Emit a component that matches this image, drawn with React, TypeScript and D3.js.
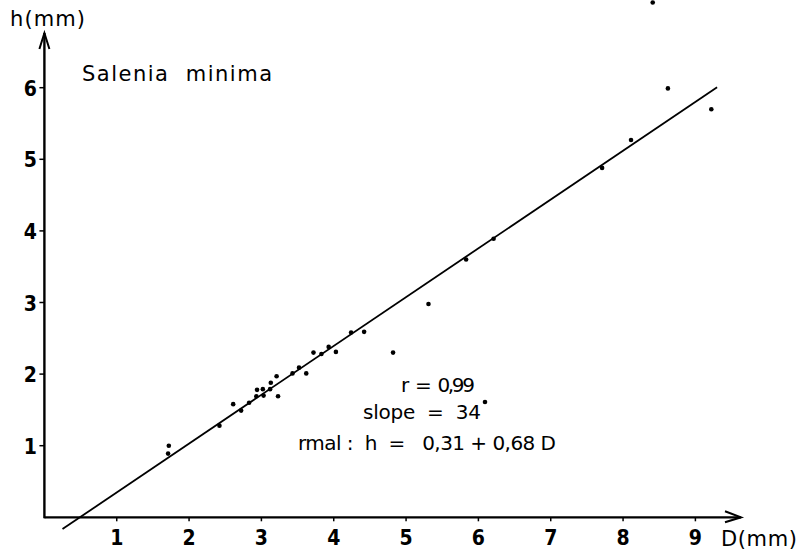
import React from "react";
import * as d3 from "d3";

const diameters = [1.72, 1.71, 2.42, 2.61, 2.72, 2.83, 2.93, 2.94, 3.02, 3.03, 3.12, 3.13, 3.21, 3.23, 3.43, 3.52, 3.62, 3.72, 3.83, 3.93, 4.03, 4.24, 4.42, 4.82, 5.31, 5.83, 6.21, 7.71, 8.11, 8.62, 9.22, 8.41];
const heights = [1.0, 0.89, 1.28, 1.58, 1.49, 1.6, 1.69, 1.78, 1.79, 1.7, 1.79, 1.88, 1.97, 1.69, 2.01, 2.09, 2.01, 2.3, 2.28, 2.38, 2.31, 2.58, 2.59, 2.3, 2.98, 3.6, 3.89, 4.88, 5.27, 5.99, 5.7, 7.19];
const xTicks = [1, 2, 3, 4, 5, 6, 7, 8, 9];
const yTicks = [1, 2, 3, 4, 5, 6];
const lineIntercept = -0.335;
const lineSlope = 0.682;
const lineRange = [0.25, 9.3];

const W = 800;
const H = 552;
const FONT = "'DejaVu Sans', sans-serif";
const NUMFONT = "'DejaVu Sans Condensed', 'DejaVu Sans', sans-serif";

export default function App() {
  const x = d3.scaleLinear().domain([0, 9]).range([44.4, 695.4]);
  const y = d3.scaleLinear().domain([0, 6]).range([517.3, 87.7]);
  const x0 = x(0);
  const y0 = y(0);
  const axisRight = 741;
  const axisTop = 33;
  const linePts: [number, number][] = lineRange.map((d) => [x(d), y(lineIntercept + lineSlope * d)]);
  const lineGen = d3.line<[number, number]>();
  const pre = { whiteSpace: "pre" as const };

  return (
    <svg width={W} height={H} style={{ position: "absolute", left: 0, top: 0, background: "#fff" }} fontFamily={FONT}>
      <rect width={W} height={H} fill="#fff" />
      {/* axes */}
      <line x1={x0} y1={y0} x2={axisRight} y2={y0} stroke="#000" strokeWidth={2.2} />
      <line x1={x0} y1={y0 + 1} x2={x0} y2={axisTop} stroke="#000" strokeWidth={2.4} />
      {/* arrow heads */}
      <path d={`M${axisRight - 16},${y0 - 6} L${axisRight},${y0} L${axisRight - 16},${y0 + 5}`} fill="none" stroke="#000" strokeWidth={2} />
      <path d={`M${x0 - 5},${axisTop + 16} L${x0},${axisTop} L${x0 + 5},${axisTop + 16}`} fill="none" stroke="#000" strokeWidth={2} />
      {/* x ticks */}
      {xTicks.map((t) => (
        <g key={"x" + t}>
          <line x1={x(t)} x2={x(t)} y1={y0} y2={y0 + 4} stroke="#000" strokeWidth={1.5} />
          <text x={x(t)} y={545} textAnchor="middle" fontSize={21} fontWeight="bold" fontFamily={NUMFONT}>{t}</text>
        </g>
      ))}
      {/* y ticks */}
      {yTicks.map((t) => (
        <g key={"y" + t}>
          <line x1={x0 - 5} x2={x0} y1={y(t)} y2={y(t)} stroke="#000" strokeWidth={1.5} />
          <text x={37} y={y(t) + 8} textAnchor="end" fontSize={21} fontWeight="bold" fontFamily={NUMFONT}>{t}</text>
        </g>
      ))}
      {/* axis labels */}
      <text x={10} y={26} fontSize={21} textLength={75} lengthAdjust="spacing">h(mm)</text>
      <text x={721} y={546} fontSize={21} textLength={76} lengthAdjust="spacing">D(mm)</text>
      <text x={82} y={81} fontSize={21} textLength={190} lengthAdjust="spacing" style={pre}>Salenia  minima</text>
      {/* regression line */}
      <path d={lineGen(linePts) || ""} fill="none" stroke="#000" strokeWidth={1.8} />
      {/* points */}
      {diameters.map((d, i) => (
        <circle key={i} cx={x(d)} cy={y(heights[i])} r={2.3} fill="#000" />
      ))}
      {/* annotation */}
      <text x={401} y={392} fontSize={20} textLength={74} lengthAdjust="spacing" style={pre}>r  =  0,99</text>
      <text x={363} y={419} fontSize={20} textLength={118} lengthAdjust="spacing" style={pre}>slope  =  34</text>
      <circle cx={485} cy={402} r={2.3} fill="#000" />
      <text x={298} y={450} fontSize={20} textLength={258} lengthAdjust="spacing" style={pre}>rmal :  h  =   0,31 + 0,68 D</text>
    </svg>
  );
}
